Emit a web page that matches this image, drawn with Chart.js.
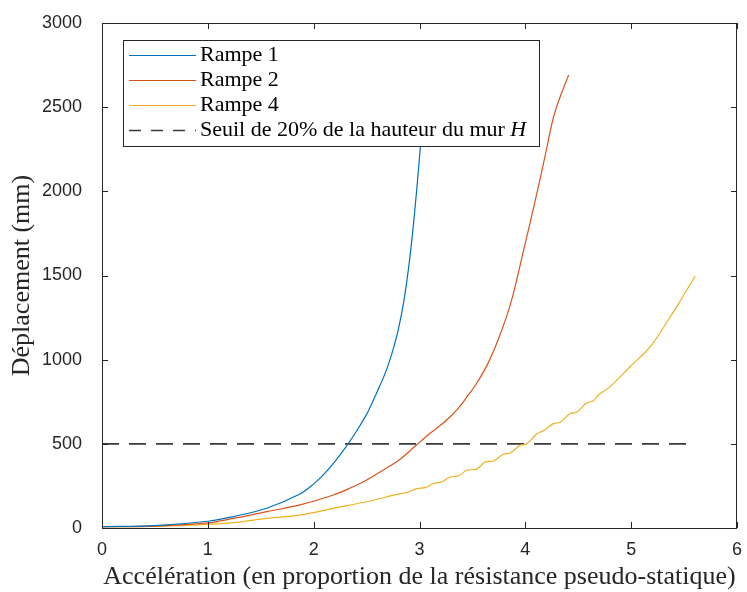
<!DOCTYPE html>
<html>
<head>
<meta charset="utf-8">
<script src="https://cdn.jsdelivr.net/npm/chart.js@4.4.0/dist/chart.umd.min.js"></script>
<style>
html, body { margin: 0; padding: 0; background: #fff; }
</style>
</head>
<body>
<canvas id="chart" width="747" height="592"></canvas>
<script>
// Données (accélération, déplacement en mm)
const rampe1X = [0, 0.5, 1.0, 1.24, 1.556, 1.87, 2.0, 2.1, 2.2, 2.3, 2.4, 2.5, 2.55, 2.6, 2.65, 2.7, 2.75, 2.8, 2.85, 2.9, 2.95, 3.0, 3.04, 3.08];
const rampe1Y = [8, 14, 40, 68, 117, 202, 262, 322, 395, 478, 570, 675, 740, 810, 880, 960, 1060, 1180, 1340, 1560, 1850, 2200, 2500, 2800];

const rampe2X = [0, 0.5, 1.0, 1.24, 1.556, 1.87, 2.186, 2.34, 2.5, 2.66, 2.82, 2.97, 3.1, 3.19, 3.29, 3.38, 3.45, 3.54, 3.64, 3.73, 3.825, 3.89, 3.98, 4.077, 4.156, 4.2, 4.266, 4.33, 4.41];
const rampe2Y = [8, 11, 30, 57, 97, 137, 196, 236, 285, 345, 410, 493, 563, 606, 661, 721, 780, 860, 969, 1097, 1260, 1400, 1640, 1900, 2120, 2250, 2440, 2563, 2692];

const rampe4X = [0, 0.5, 1.0, 1.24, 1.556, 1.87, 2.186, 2.5, 2.817, 2.88, 2.974, 3.053, 3.147, 3.211, 3.289, 3.368, 3.447, 3.541, 3.62, 3.699, 3.793, 3.856, 3.951, 4.014, 4.109, 4.171, 4.266, 4.329, 4.423, 4.487, 4.581, 4.644, 4.691, 4.8, 4.99, 5.18, 5.37, 5.46, 5.605];
const rampe4Y = [8, 10, 22, 32, 57, 77, 117, 156, 204, 210, 234, 240, 267, 273, 303, 309, 343, 350, 392, 398, 438, 445, 491, 500, 560, 578, 620, 628, 680, 688, 744, 756, 790, 840, 958, 1077, 1255, 1345, 1497];

const seuilX = [0, 5.6];
const seuilY = [500, 500];

const xTicks = [0, 1, 2, 3, 4, 5, 6];
const yTicks = [0, 500, 1000, 1500, 2000, 2500, 3000];

const labels = ['Rampe 1', 'Rampe 2', 'Rampe 4', 'Seuil de 20% de la hauteur du mur '];

const axisColor = '#262626';
const serif = '"Liberation Serif", "DejaVu Serif", serif';
const sans = '"Liberation Sans", Arial, sans-serif';

function toPoints(xs, ys) {
    return xs.map((x, i) => ({ x: x, y: ys[i] }));
}

// pas de marge automatique autour des axes : la zone de tracé est fixée par layout.padding
function noMargins(s) {
    s.paddingTop = 0;
    s.paddingBottom = 0;
    s.paddingLeft = 0;
    s.paddingRight = 0;
}

// Cadre, graduations intérieures, titres et légende façon MATLAB
const matlabFrame = {
    id: 'matlabFrame',
    afterDatasetsDraw(chart) {
        const ctx = chart.ctx;
        const a = chart.chartArea;
        const sx = chart.scales.x;
        const sy = chart.scales.y;
        ctx.save();
        ctx.strokeStyle = axisColor;
        ctx.lineWidth = 1;
        ctx.strokeRect(a.left + 0.5, a.top + 0.5, a.right - a.left - 1, a.bottom - a.top);

        // graduations
        ctx.beginPath();
        xTicks.forEach(v => {
            const px = Math.round(sx.getPixelForValue(v)) + 0.5;
            ctx.moveTo(px, a.bottom); ctx.lineTo(px, a.bottom - 6);
            ctx.moveTo(px, a.top); ctx.lineTo(px, a.top + 6);
        });
        yTicks.forEach(v => {
            const py = Math.round(sy.getPixelForValue(v)) + 0.5;
            ctx.moveTo(a.left, py); ctx.lineTo(a.left + 6, py);
            ctx.moveTo(a.right, py); ctx.lineTo(a.right - 6, py);
        });
        ctx.stroke();

        // titres des axes
        ctx.fillStyle = axisColor;
        ctx.font = '26px ' + serif;
        ctx.textAlign = 'center';
        ctx.textBaseline = 'middle';
        ctx.fillText('Accélération (en proportion de la résistance pseudo-statique)', (a.left + a.right) / 2, 577);
        ctx.save();
        ctx.translate(22, (a.top + a.bottom) / 2);
        ctx.rotate(-Math.PI / 2);
        ctx.fillText('Déplacement (mm)', 0, 0);
        ctx.restore();

        // légende
        const bx = 123.5, by = 40.5, bw = 416, bh = 106;
        ctx.fillStyle = '#ffffff';
        ctx.fillRect(bx, by, bw, bh);
        ctx.strokeStyle = axisColor;
        ctx.strokeRect(bx, by, bw, bh);
        ctx.font = '22px ' + serif;
        ctx.textAlign = 'left';
        chart.data.datasets.forEach((ds, i) => {
            const ry = 55 + i * 25;
            ctx.beginPath();
            ctx.strokeStyle = ds.borderColor;
            ctx.lineWidth = ds.borderWidth;
            ctx.setLineDash(i === 3 ? [12, 10] : []);
            ctx.moveTo(129, ry + 0.5);
            ctx.lineTo(196, ry + 0.5);
            ctx.stroke();
            ctx.setLineDash([]);
            ctx.fillStyle = '#000';
            ctx.fillText(ds.label, 200, ry);
            if (i === 3) {
                const w = ctx.measureText(ds.label).width;
                ctx.font = 'italic 22px ' + serif;
                ctx.fillText('H', 200 + w, ry);
                ctx.font = '22px ' + serif;
            }
        });
        ctx.restore();
    }
};

new Chart(document.getElementById('chart'), {
    type: 'scatter',
    data: {
        datasets: [
            { label: labels[0], data: toPoints(rampe1X, rampe1Y), borderColor: '#0072BD' },
            { label: labels[1], data: toPoints(rampe2X, rampe2Y), borderColor: '#D95319' },
            { label: labels[2], data: toPoints(rampe4X, rampe4Y), borderColor: '#EDB120' },
            { label: labels[3], data: toPoints(seuilX, seuilY), borderColor: '#3a3a3a', borderWidth: 1.6, borderDash: [17, 10], tension: 0 }
        ].map(ds => Object.assign({
            showLine: true,
            borderWidth: 1.2,
            pointRadius: 0,
            fill: false,
            tension: 0.35
        }, ds))
    },
    options: {
        responsive: false,
        animation: false,
        layout: { padding: { top: 23, right: 10, left: 0, bottom: 0 } },
        plugins: {
            legend: { display: false },
            tooltip: { enabled: false }
        },
        scales: {
            x: {
                type: 'linear',
                min: 0,
                max: 6,
                afterFit(s) { s.height = 64; noMargins(s); },
                afterBuildTicks(s) { s.ticks = xTicks.map(v => ({ value: v })); },
                grid: { display: false, drawTicks: false },
                border: { display: false },
                ticks: { color: axisColor, font: { family: sans, size: 18 }, padding: 11, callback: v => String(v) }
            },
            y: {
                type: 'linear',
                min: 0,
                max: 3000,
                afterFit(s) { s.width = 102; noMargins(s); },
                afterBuildTicks(s) { s.ticks = yTicks.map(v => ({ value: v })); },
                grid: { display: false, drawTicks: false },
                border: { display: false },
                ticks: { color: axisColor, font: { family: sans, size: 18 }, padding: 20, callback: v => String(v) }
            }
        }
    },
    plugins: [matlabFrame]
});
</script>
</body>
</html>
